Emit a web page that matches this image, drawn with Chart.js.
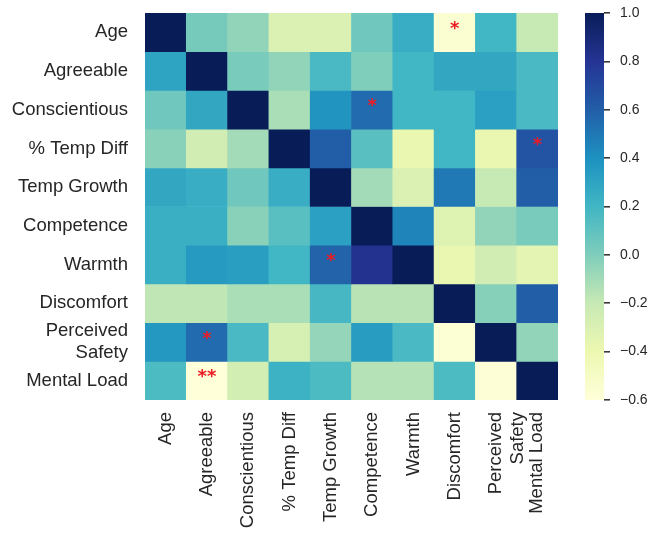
<!DOCTYPE html>
<html>
<head>
<meta charset="utf-8">
<script src="https://cdn.jsdelivr.net/npm/chart.js@4.4.1/dist/chart.umd.min.js"></script>
<style>
  html, body { margin: 0; padding: 0; background: #fff; }
  #wrap { position: relative; width: 668px; height: 533px; overflow: hidden; }
  #heat { position: absolute; left: 0; top: 0; }
  #cbar { position: absolute; left: 560px; top: 0; }
</style>
</head>
<body>
<div id="wrap">
  <canvas id="heat" width="668" height="533" style="width:668px;height:533px"></canvas>
  <canvas id="cbar" width="108" height="533" style="width:108px;height:533px"></canvas>
</div>
<script>
// variable names, top to bottom / left to right
const varNames = ['Age', 'Agreeable', 'Conscientious', '% Temp Diff', 'Temp Growth',
  'Competence', 'Warmth', 'Discomfort', ['Perceived', 'Safety'], 'Mental Load'];

// correlation rows
const ageRow           = [1.00, 0.03, -0.05, -0.30, -0.30, 0.05, 0.25, -0.56, 0.20, -0.20];
const agreeableRow     = [0.30, 1.00, 0.02, -0.05, 0.17, 0.00, 0.20, 0.28, 0.28, 0.17];
const conscientiousRow = [0.05, 0.28, 1.00, -0.12, 0.38, 0.55, 0.20, 0.20, 0.32, 0.17];
const tempDiffRow      = [-0.03, -0.25, -0.10, 1.00, 0.60, 0.12, -0.38, 0.20, -0.38, 0.65];
const tempGrowthRow    = [0.28, 0.25, 0.05, 0.25, 1.00, -0.10, -0.30, 0.50, -0.20, 0.60];
const competenceRow    = [0.24, 0.24, -0.03, 0.12, 0.32, 1.00, 0.45, -0.32, -0.05, 0.02];
const warmthRow        = [0.24, 0.35, 0.33, 0.20, 0.58, 0.82, 1.00, -0.38, -0.25, -0.35];
const discomfortRow    = [-0.18, -0.18, -0.12, -0.12, 0.18, -0.16, -0.16, 1.00, -0.02, 0.60];
const safetyRow        = [0.36, 0.55, 0.17, -0.28, -0.06, 0.34, 0.17, -0.57, 1.00, -0.05];
const mentalLoadRow    = [0.16, -0.60, -0.26, 0.22, 0.16, -0.15, -0.15, 0.16, -0.58, 1.00];

const corrRows = [ageRow, agreeableRow, conscientiousRow, tempDiffRow, tempGrowthRow,
  competenceRow, warmthRow, discomfortRow, safetyRow, mentalLoadRow];

// significance markers: [row, col, text]
const sigMarks = [[0, 7, '*'], [2, 5, '*'], [3, 9, '*'], [6, 4, '*'], [8, 1, '*'], [9, 1, '**']];

// colour bar
const vMin = -0.6;
const vMax = 1.0;
const cbarTicks = [-0.6, -0.4, -0.2, 0.0, 0.2, 0.4, 0.6, 0.8, 1.0];

// YlGnBu anchors
const ylGnBuStops = ['#ffffd9', '#edf8b1', '#c7e9b4', '#7fcdbb', '#41b6c4',
  '#1d91c0', '#225ea8', '#253494', '#081d58'];

const hexToRgb = h => [1, 3, 5].map(i => parseInt(h.slice(i, i + 2), 16));

function ylGnBu(v) {
  let t = (v - vMin) / (vMax - vMin);
  t = Math.max(0, Math.min(1, t));
  const pos = t * (ylGnBuStops.length - 1);
  const i = Math.min(Math.floor(pos), ylGnBuStops.length - 2);
  const f = pos - i;
  const a = hexToRgb(ylGnBuStops[i]);
  const b = hexToRgb(ylGnBuStops[i + 1]);
  const c = a.map((x, k) => Math.round(x + (b[k] - x) * f));
  return `rgb(${c[0]},${c[1]},${c[2]})`;
}

const textColor = '#262626';
const fontFamily = '"Liberation Sans", Arial, sans-serif';

const starPlugin = {
  id: 'sigStars',
  afterDatasetsDraw(chart) {
    const ctx = chart.ctx;
    ctx.save();
    ctx.fillStyle = '#ec1c24';
    ctx.font = 'bold 18px "DejaVu Sans", sans-serif';
    ctx.textAlign = 'center';
    ctx.textBaseline = 'middle';
    sigMarks.forEach(([r, c, txt]) => {
      const cell = chart.getDatasetMeta(r).data[c];
      const p = cell.getCenterPoint();
      ctx.fillText(txt, p.x, p.y - 3);
    });
    ctx.restore();
  }
};

// drop the label overhang chart.js reserves at the axis ends
const noEndPadding = s => {
  s.paddingTop = 0; s.paddingBottom = 0; s.paddingLeft = 0; s.paddingRight = 0;
};

new Chart(document.getElementById('heat'), {
  type: 'bar',
  data: {
    labels: varNames,
    datasets: corrRows.map((vals, r) => ({
      label: Array.isArray(varNames[r]) ? varNames[r].join(' ') : varNames[r],
      data: vals.map(() => 1), // every cell is one row tall
      backgroundColor: vals.map(v => ylGnBu(v)),
      borderWidth: 0,
      barPercentage: 1,
      categoryPercentage: 1,
      stack: 'grid'
    }))
  },
  options: {
    responsive: false,
    animation: false,
    layout: { padding: { top: 13, right: 110, bottom: 0, left: 0 } },
    plugins: { legend: { display: false }, tooltip: { enabled: false } },
    scales: {
      x: {
        stacked: true,
        grid: { display: false, drawTicks: false },
        border: { display: false },
        ticks: {
          autoSkip: false, minRotation: 90, maxRotation: 90, padding: 12,
          color: textColor, font: { family: fontFamily, size: 18.5 }
        },
        afterFit: s => { s.height = 133; noEndPadding(s); }
      },
      y: {
        stacked: true,
        reverse: true,
        min: 0,
        max: corrRows.length,
        grid: { display: false, drawTicks: false },
        border: { display: false },
        afterBuildTicks: s => { s.ticks = varNames.map((_, i) => ({ value: i + 0.5 })); },
        ticks: {
          autoSkip: false, padding: 17,
          color: textColor, font: { family: fontFamily, size: 18.5 },
          callback: (v, i) => varNames[i]
        },
        afterFit: s => { s.width = 145; noEndPadding(s); }
      }
    }
  },
  plugins: [starPlugin]
});

function barGradient(chart) {
  const area = chart.chartArea;
  if (!area) return ylGnBu(0);
  const g = chart.ctx.createLinearGradient(0, area.bottom, 0, area.top);
  ylGnBuStops.forEach((c, i) => g.addColorStop(i / (ylGnBuStops.length - 1), c));
  return g;
}

new Chart(document.getElementById('cbar'), {
  type: 'bar',
  data: {
    labels: [''],
    datasets: [{
      data: [[vMin, vMax]],
      backgroundColor: c => barGradient(c.chart),
      borderWidth: 0,
      barPercentage: 1,
      categoryPercentage: 1
    }]
  },
  options: {
    responsive: false,
    animation: false,
    layout: { padding: { top: 13, right: 0, bottom: 133, left: 25 } },
    plugins: { legend: { display: false }, tooltip: { enabled: false } },
    scales: {
      x: { display: false },
      y: {
        position: 'right',
        min: vMin,
        max: vMax,
        afterBuildTicks: s => { s.ticks = cbarTicks.map(v => ({ value: v })); },
        grid: { drawOnChartArea: false, drawTicks: true, tickLength: 6, color: '#3a3a3a', lineWidth: 1.6 },
        border: { display: false },
        ticks: {
          padding: 10, color: textColor, font: { family: fontFamily, size: 14 },
          callback: (v, i) => cbarTicks[i].toFixed(1).replace('-', '\u2212')
        },
        afterFit: s => { s.width = 64; noEndPadding(s); }
      }
    }
  }
});
</script>
</body>
</html>
